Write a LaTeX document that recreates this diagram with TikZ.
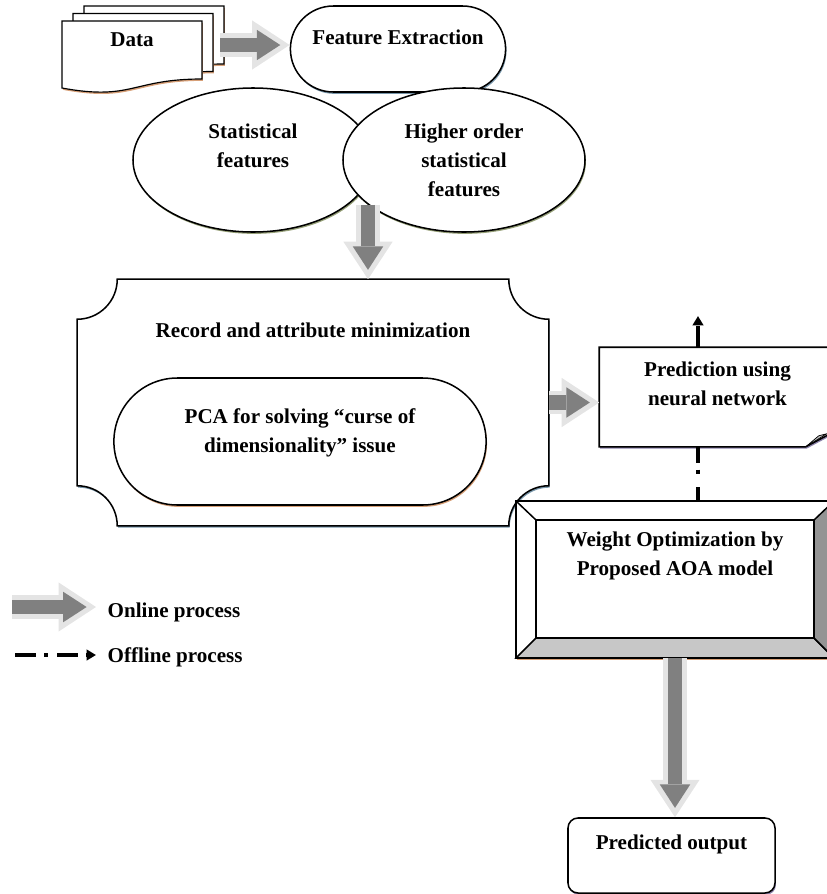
\documentclass[tikz,border=0pt]{standalone}
\usepackage{fontspec}
\setmainfont{Liberation Serif}
\usetikzlibrary{calc,arrows.meta,positioning,shapes.geometric,shapes.misc,shadows,backgrounds}
\definecolor{shblue}{RGB}{120,150,170}
\definecolor{shorange}{RGB}{215,160,120}
\definecolor{sholive}{RGB}{150,160,120}
\definecolor{shpurple}{RGB}{140,130,170}
\definecolor{arrdark}{RGB}{128,128,128}
\definecolor{arrlight}{RGB}{228,228,228}
\newcommand{\datapage}[2]{%
  \draw[page, shift={(#1,#2)}] (0,0) -- (140,0) -- (140,-58)
    .. controls (70,-58) and (70,-80) .. (0,-67) -- cycle;}

\begin{document}
\begin{tikzpicture}[
 x=0.03cm, y=0.03cm, line width=1.3pt,
 every node/.style={font=\fontsize{18}{24.6}\selectfont\bfseries, align=center},
 sh/.style={drop shadow={shadow xshift=0.8pt, shadow yshift=-1.6pt, fill=#1, opacity=1}},
 page/.style={draw, line width=1pt, fill=white, sh=shorange},
 stadium/.style={rounded rectangle, draw, fill=white, sh=#1},
 oval/.style={ellipse, draw, fill=white, minimum width=7.2cm, minimum height=4.32cm, sh=sholive},
 lift/.style={text depth=#1},
 back/.style={draw, line width=1.3pt},
 online/.style={draw=arrdark, line width=12pt, -{Triangle[length=20pt,width=26pt,line width=0pt]},
   shorten >=8pt, preaction={draw=arrlight, line width=20pt, shorten >=0pt,
   -{Triangle[length=32pt,width=42pt,line width=0pt]}}},
 offline/.style={line width=2.6pt, dash pattern=on 18pt off 7pt on 3pt off 8pt,
   -{Triangle[length=8pt,width=9pt]}}
]
\useasboundingbox (0,0) rectangle (826,-894);

% Data stack
\datapage{84}{-6}
\datapage{73}{-13.5}
\datapage{62}{-21}
\node (data) at (132,-40) {Data};
\coordinate (dataR) at (220,-45);

% Feature extraction
\node[stadium=shblue, minimum width=6.69cm, minimum height=2.58cm, lift=0.72cm] (fe) at (398,-49) {Feature Extraction};
\draw[online] (dataR) -- (dataR -| fe.west);

\node[oval, lift=0.84cm] (stat) at (253,-160) {Statistical\\features};
\node[oval, minimum width=7.26cm] (hos) at (464,-160) {Higher order\\statistical\\features};

% Record and attribute minimization
\node[minimum width=14.1cm, minimum height=7.35cm, lift=4.35cm] (rec) at (313,-402.5) {Record and attribute minimization};
\begin{scope}[on background layer]
\draw[back, fill=white, sh=shblue] ($(rec.north west)+(40,0)$) -- ($(rec.north east)+(-40,0)$)
  arc[start angle=180, end angle=270, radius=40] -- ($(rec.south east)+(0,40)$)
  arc[start angle=90, end angle=180, radius=40] -- ($(rec.south west)+(40,0)$)
  arc[start angle=0, end angle=90, radius=40] -- ($(rec.north west)+(0,-40)$)
  arc[start angle=270, end angle=360, radius=40] -- cycle;
\end{scope}
\node[stadium=shorange, minimum width=11.4cm, minimum height=3.81cm, lift=0.66cm] (pca) at (300,-441.5) {PCA for solving “curse of\\dimensionality” issue};
\draw[online] (hos.205) -- (hos.205 |- rec.north);

% Prediction
\node[minimum width=7.05cm, minimum height=2.94cm, lift=0.78cm] (pred) at (717.5,-397) {Prediction using\\neural network};
\begin{scope}[on background layer]
\draw[back, fill=white, sh=shpurple] (pred.north west) -- (pred.north east) -- ($(pred.south east)+(0,16)$)
  -- ($(pred.south east)+(-30,0)$) -- (pred.south west) -- cycle;
\end{scope}
\draw[fill=black!25, line width=0.6pt] ($(pred.south east)+(-30,0)$) -- ($(pred.south east)+(-17,11)$)
  -- ($(pred.south east)+(-9,13)$) -- cycle;
\draw[online] (rec.east) -- (rec.east -| pred.west);

% Weight optimization
\node[minimum width=9.48cm, minimum height=4.65cm, lift=1.53cm] (weight) at (675,-579.5) {Weight Optimization by\\Proposed AOA model};
\begin{scope}[on background layer]
\draw[back, fill=white, sh=shorange] (weight.north west) rectangle (weight.south east);
\draw[back, fill=black!22] (weight.south west) -- ($(weight.south west)+(20,20)$) -- ($(weight.south east)+(-20,20)$) -- (weight.south east) -- cycle;
\draw[back, fill=black!42] (weight.south east) -- ($(weight.south east)+(-20,20)$) -- ($(weight.north east)+(-20,-19)$) -- (weight.north east) -- cycle;
\draw[back] ($(weight.north west)+(20,-19)$) rectangle ($(weight.south east)+(-20,20)$);
\draw[back] (weight.north west) -- ++(20,-19);
\end{scope}

% Offline link
\coordinate (offtop) at (698,-316);
\draw[offline, -, dash pattern=on 13.6pt off 6pt on 4pt off 11pt on 16pt] (offtop |- pred.south) -- (offtop |- weight.north);
\draw[offline] (offtop |- pred.north) -- (offtop);

% Output
\node[draw, fill=white, rounded corners=0.3cm, sh=shpurple, minimum width=6.21cm, minimum height=2.25cm, lift=0.81cm] (out) at (671.5,-855.5) {Predicted output};
\draw[online] (weight.south) -- (weight.south |- out.north);

% Legend
\coordinate (onS) at (12,-607);
\coordinate (onE) at (96,-607);
\draw[online] (onS) -- (onE);
\node[anchor=west] (onl) at (103,-612) {Online process};
\coordinate (offS) at (15,-655);
\coordinate (offE) at (96,-655);
\draw[offline] (offS) -- (offE);
\node[anchor=west] (offl) at (103,-657) {Offline process};
\end{tikzpicture}
\end{document}
